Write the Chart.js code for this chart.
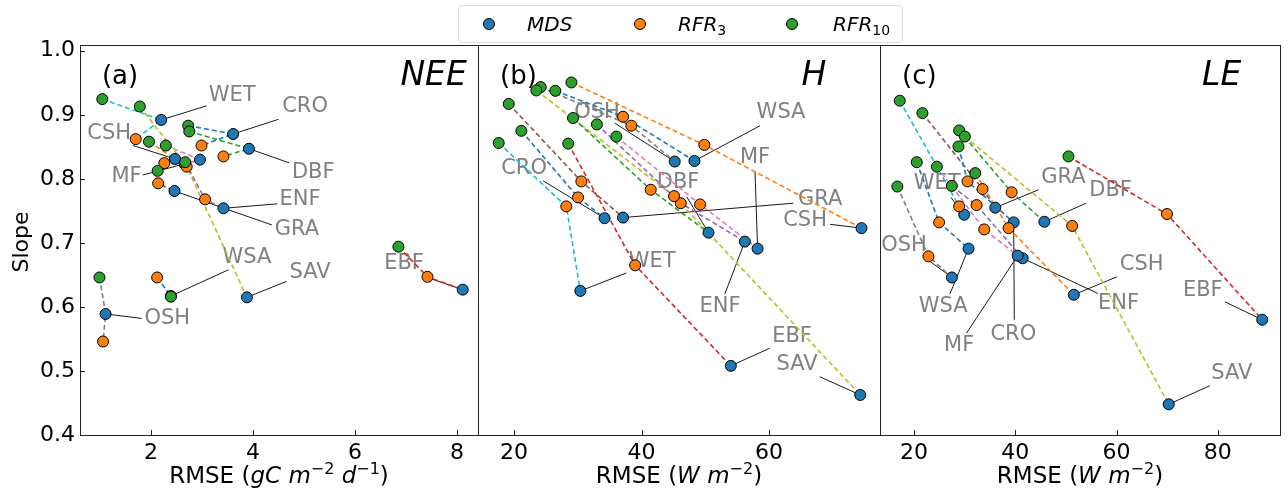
<!DOCTYPE html>
<html>
<head>
<meta charset="utf-8">
<script src="https://cdn.jsdelivr.net/npm/chart.js@4.4.1/dist/chart.umd.min.js"></script>
<style>
  html, body { margin: 0; padding: 0; background: #fff; }
  #wrap { position: relative; width: 1288px; height: 494px; overflow: hidden; }
  #wrap canvas { position: absolute; top: 0; }
  #panelNEE { left: 0; }
  #panelH { left: 478px; }
  #panelLE { left: 880px; }
  #legend {
    position: absolute; left: 458px; top: 5px; width: 445px; height: 38px;
    box-sizing: border-box; border: 1px solid #dcdcdc; border-radius: 4px;
    background: rgba(255, 255, 255, 0.85); z-index: 5;
    font: italic 20px 'DejaVu Sans', sans-serif; color: #000;
  }
  #legend .dot { position: absolute; top: 12px; width: 10px; height: 10px; border: 1px solid #000; border-radius: 50%; }
  #legend .lab { position: absolute; top: 0; height: 36px; line-height: 36px; white-space: nowrap; }
  #legend sub { font-size: 14px; font-style: normal; vertical-align: -4px; line-height: 0; }
</style>
</head>
<body>
<div id="wrap">
  <canvas id="panelNEE" width="478" height="494"></canvas>
  <canvas id="panelH" width="402" height="494"></canvas>
  <canvas id="panelLE" width="408" height="494"></canvas>
  <div id="legend">
    <span class="dot" style="left:24px;background:#1f77b4"></span><span class="lab" style="left:68px">MDS</span>
    <span class="dot" style="left:175px;background:#ff7f0e"></span><span class="lab" style="left:219px">RFR<sub>3</sub></span>
    <span class="dot" style="left:327px;background:#2ca02c"></span><span class="lab" style="left:374px">RFR<sub>10</sub></span>
  </div>
</div>
<script>
// sites (alphabetical) and their line colours (tab10, wraps for the 11th)
const SITES = ['CRO', 'CSH', 'DBF', 'EBF', 'ENF', 'GRA', 'MF', 'OSH', 'SAV', 'WET', 'WSA'];
const SITE_COLORS = ['#1f77b4', '#ff7f0e', '#2ca02c', '#d62728', '#9467bd', '#8c564b', '#e377c2', '#7f7f7f', '#bcbd22', '#17becf', '#1f77b4'];

const SLOPE_TICKS = [0.4, 0.5, 0.6, 0.7, 0.8, 0.9, 1.0];
const NEE_TICKS = [2, 4, 6, 8];
const H_TICKS = [20, 40, 60];
const LE_TICKS = [20, 40, 60, 80];

// (a) NEE
const neeMdsX = [3.61, 2.47, 3.92, 8.11, 3.42, 2.46, 2.96, 1.11, 3.88, 2.20, 2.39];
const neeMdsY = [0.870, 0.831, 0.847, 0.627, 0.754, 0.781, 0.830, 0.589, 0.615, 0.892, 0.617];
const neeRfr3X = [2.99, 2.26, 3.42, 7.42, 3.06, 2.14, 2.66, 1.06, 2.70, 1.70, 2.12];
const neeRfr3Y = [0.852, 0.8245, 0.835, 0.647, 0.768, 0.793, 0.823, 0.546, 0.819, 0.862, 0.646];
const neeRfr10X = [2.73, 1.96, 2.75, 6.85, 2.67, 2.13, 2.29, 0.99, 1.78, 1.045, 2.39];
const neeRfr10Y = [0.883, 0.858, 0.874, 0.694, 0.826, 0.8125, 0.852, 0.646, 0.913, 0.9245, 0.616];

// (b) H
const hMdsX = [34.2, 74.5, 50.5, 54.0, 56.2, 37.1, 58.2, 45.2, 74.3, 30.4, 48.3];
const hMdsY = [0.7385, 0.723, 0.716, 0.508, 0.702, 0.7395, 0.691, 0.827, 0.4625, 0.625, 0.828];
const hRfr3X = [30.04, 49.85, 41.44, 39.0, 46.15, 30.56, 49.18, 38.4, 45.1, 28.2, 37.1];
const hRfr3Y = [0.771, 0.853, 0.783, 0.665, 0.762, 0.796, 0.760, 0.883, 0.773, 0.757, 0.897];
const hRfr10X = [21.15, 29.0, 29.25, 28.5, 33.0, 19.17, 36.05, 24.18, 23.5, 17.6, 26.48];
const hRfr10Y = [0.875, 0.9505, 0.895, 0.855, 0.885, 0.917, 0.866, 0.9433, 0.938, 0.856, 0.9375];

// (c) LE
const leMdsX = [39.67, 51.55, 45.74, 88.77, 41.45, 36.04, 40.46, 27.46, 70.3, 29.9, 30.76];
const leMdsY = [0.732, 0.619, 0.733, 0.580, 0.676, 0.755, 0.680, 0.646, 0.448, 0.744, 0.691];
const leRfr3X = [30.56, 38.67, 39.27, 69.96, 32.35, 33.53, 33.86, 22.83, 51.22, 28.91, 24.95];
const leRfr3Y = [0.796, 0.723, 0.779, 0.745, 0.759, 0.784, 0.721, 0.679, 0.7265, 0.757, 0.732];
const leRfr10X = [28.77, 32.08, 28.91, 50.5, 27.46, 21.65, 24.5, 16.7, 30.03, 17.17, 20.53];
const leRfr10Y = [0.8505, 0.809, 0.8755, 0.835, 0.789, 0.9026, 0.819, 0.788, 0.866, 0.922, 0.826];

// label placement: [text x, text y, leader start x, leader start y] in data units
const neeLabelPos = [
    [5.02, 0.914, 4.50, 0.893], [1.18, 0.872, 1.65, 0.852], [5.18, 0.811, 4.71, 0.825],
    [6.96, 0.669, 7.34, 0.648], [4.92, 0.770, 4.48, 0.761], [4.86, 0.722, 4.37, 0.728],
    [1.52, 0.805, 1.84, 0.806], [2.32, 0.584, 1.82, 0.582], [5.12, 0.655, 4.66, 0.640],
    [3.59, 0.932, 3.09, 0.914], [3.88, 0.679, 3.52, 0.658]
];
const hLabelPos = [
    [21.57, 0.818, 24.55, 0.797], [65.65, 0.736, 69.57, 0.729], [45.73, 0.795, 47.09, 0.772],
    [63.61, 0.555, 60.11, 0.5355], [52.31, 0.602, 53.05, 0.620], [68.0, 0.7695, 63.81, 0.762],
    [57.80, 0.835, 57.80, 0.811], [33.02, 0.905, 35.80, 0.887], [64.39, 0.511, 67.95, 0.491],
    [41.65, 0.672, 37.62, 0.653], [61.88, 0.9055, 58.59, 0.883]
];
const leLabelPos = [
    [39.60, 0.559, 39.80, 0.580], [64.95, 0.667, 60.06, 0.647], [58.81, 0.783, 54.0, 0.762],
    [77.03, 0.627, 81.39, 0.608], [60.40, 0.607, 56.30, 0.621], [49.50, 0.804, 44.61, 0.783],
    [28.91, 0.542, 30.36, 0.559], [18.02, 0.697, 21.98, 0.678], [82.77, 0.497, 78.42, 0.477],
    [24.55, 0.794, 27.27, 0.771], [25.74, 0.602, 27.07, 0.620]
];

document.addEventListener('DOMContentLoaded', () => {

    Chart.defaults.font.family = "'DejaVu Sans', sans-serif";
    Chart.defaults.color = '#000';

    const FONT = "'DejaVu Sans', sans-serif";

    // draws text made of normal / italic / superscript pieces, centred on cx
    const drawRuns = (ctx, runs, cx, baseY, size) => {
        const fontOf = r => (r.i ? 'italic ' : '') + Math.round(r.sup ? size * 0.7 : size) + 'px ' + FONT;
        let total = 0;
        runs.forEach(r => { ctx.font = fontOf(r); total += ctx.measureText(r.t).width; });
        let x = cx - total / 2;
        ctx.textAlign = 'left';
        ctx.textBaseline = 'alphabetic';
        runs.forEach(r => {
            ctx.font = fontOf(r);
            ctx.fillText(r.t, x, baseY - (r.sup ? size * 0.42 : 0));
            x += ctx.measureText(r.t).width;
        });
    };

    const toPoints = (xs, ys) => xs.map((x, i) => ({ x: x, y: ys[i] }));

    const makeDecor = cfg => ({
        id: 'panelDecor',
        beforeDatasetsDraw(chart) {
            const { ctx } = chart;
            const sx = chart.scales.x, sy = chart.scales.y;
            ctx.save();
            ctx.strokeStyle = '#1a1a1a';
            ctx.lineWidth = 1;
            cfg.labelPos.forEach((p, i) => {
                ctx.beginPath();
                ctx.moveTo(sx.getPixelForValue(p[2]), sy.getPixelForValue(p[3]));
                ctx.lineTo(sx.getPixelForValue(cfg.mdsX[i]), sy.getPixelForValue(cfg.mdsY[i]));
                ctx.stroke();
            });
            ctx.fillStyle = '#808080';
            ctx.font = '21px ' + FONT;
            ctx.textAlign = 'center';
            ctx.textBaseline = 'middle';
            cfg.labelPos.forEach((p, i) => {
                ctx.fillText(SITES[i], sx.getPixelForValue(p[0]), sy.getPixelForValue(p[1]) + 1);
            });
            ctx.restore();
        },
        afterDraw(chart) {
            const { ctx, chartArea: a } = chart;
            const sx = chart.scales.x, sy = chart.scales.y;
            ctx.save();
            // frame and inward ticks
            ctx.strokeStyle = '#222';
            ctx.lineWidth = 1;
            ctx.strokeRect(Math.round(a.left) + 0.5, Math.round(a.top) + 0.5,
                Math.round(a.right - a.left), Math.round(a.bottom - a.top));
            ctx.beginPath();
            cfg.xTicks.forEach(v => {
                const px = Math.round(sx.getPixelForValue(v)) + 0.5;
                ctx.moveTo(px, a.bottom);
                ctx.lineTo(px, a.bottom - 5);
            });
            if (cfg.showY) {
                SLOPE_TICKS.forEach(v => {
                    const py = Math.round(sy.getPixelForValue(v)) + 0.5;
                    ctx.moveTo(a.left, py);
                    ctx.lineTo(a.left + 5, py);
                });
            }
            ctx.stroke();

            // panel tag and flux name
            const w = a.right - a.left;
            ctx.fillStyle = '#000';
            ctx.textAlign = 'left';
            ctx.textBaseline = 'alphabetic';
            ctx.font = '26px ' + FONT;
            ctx.fillText(cfg.tag, a.left + 0.055 * w, 84);
            ctx.font = 'italic 33px ' + FONT;
            ctx.fillText(cfg.flux, a.left + 0.805 * w, 85);

            // axis titles
            drawRuns(ctx, cfg.xTitle, (a.left + a.right) / 2, 483, 22.5);
            if (cfg.showY) {
                ctx.translate(22, 242);
                ctx.rotate(-Math.PI / 2);
                ctx.font = '22px ' + FONT;
                ctx.textAlign = 'center';
                ctx.textBaseline = 'middle';
                ctx.fillText('Slope', 0, 0);
            }
            ctx.restore();
        }
    });

    const createPanel = cfg => {
        const lines = SITES.map((s, i) => {
            const pts = [
                { x: cfg.rfr10X[i], y: cfg.rfr10Y[i] },
                { x: cfg.rfr3X[i], y: cfg.rfr3Y[i] },
                { x: cfg.mdsX[i], y: cfg.mdsY[i] }
            ].sort((p, q) => q.y - p.y);
            return {
                label: s, data: pts, showLine: true, pointRadius: 0,
                borderColor: SITE_COLORS[i], borderWidth: 1.6, borderDash: [5, 3], order: 10
            };
        });
        const marker = (label, xs, ys, color, order) => ({
            label: label, data: toPoints(xs, ys), backgroundColor: color,
            borderColor: '#000', borderWidth: 1, pointRadius: 5.5, order: order
        });

        return new Chart(document.getElementById(cfg.canvas), {
            type: 'scatter',
            data: {
                datasets: lines.concat([
                    marker('MDS', cfg.mdsX, cfg.mdsY, '#1f77b4', 3),
                    marker('RFR3', cfg.rfr3X, cfg.rfr3Y, '#ff7f0e', 2),
                    marker('RFR10', cfg.rfr10X, cfg.rfr10Y, '#2ca02c', 1)
                ])
            },
            options: {
                responsive: false,
                animation: false,
                devicePixelRatio: 1,
                layout: { padding: { left: 0, right: cfg.padRight, top: 45, bottom: 0 }, autoPadding: false },
                scales: {
                    x: {
                        type: 'linear', min: cfg.min, max: cfg.max,
                        afterFit: s => { s.height = 59; },
                        afterBuildTicks: s => { s.ticks = cfg.xTicks.map(v => ({ value: v })); },
                        grid: { display: false, drawTicks: false },
                        border: { display: false },
                        ticks: { font: { size: cfg.tickSize }, color: '#000', padding: 5, maxRotation: 0, autoSkip: false,
                            callback: v => String(v) }
                    },
                    y: {
                        type: 'linear', min: 0.4, max: 1.009,
                        display: cfg.showY,
                        afterFit: s => { s.width = cfg.showY ? 80 : 0; },
                        afterBuildTicks: s => { s.ticks = SLOPE_TICKS.map(v => ({ value: v })); },
                        grid: { display: false, drawTicks: false },
                        border: { display: false },
                        ticks: { font: { size: 22 }, color: '#000', padding: 5, autoSkip: false,
                            callback: v => v.toFixed(1) }
                    }
                },
                plugins: { legend: { display: false }, tooltip: { enabled: false } }
            },
            plugins: [makeDecor(cfg)]
        });
    };

    createPanel({
        canvas: 'panelNEE', padRight: 0, showY: true, min: 0.608, max: 8.41, tickSize: 22,
        xTicks: NEE_TICKS, tag: '(a)', flux: 'NEE', labelPos: neeLabelPos,
        mdsX: neeMdsX, mdsY: neeMdsY, rfr3X: neeRfr3X, rfr3Y: neeRfr3Y, rfr10X: neeRfr10X, rfr10Y: neeRfr10Y,
        xTitle: [{ t: 'RMSE (' }, { t: 'gC m', i: 1 }, { t: '\u22122', sup: 1 }, { t: ' d', i: 1 }, { t: '\u22121', sup: 1 }, { t: ')' }]
    });

    createPanel({
        canvas: 'panelH', padRight: 0, showY: false, min: 14.35, max: 77.4, tickSize: 22.05,
        xTicks: H_TICKS, tag: '(b)', flux: 'H', labelPos: hLabelPos,
        mdsX: hMdsX, mdsY: hMdsY, rfr3X: hRfr3X, rfr3Y: hRfr3Y, rfr10X: hRfr10X, rfr10Y: hRfr10Y,
        xTitle: [{ t: 'RMSE (' }, { t: 'W m', i: 1 }, { t: '\u22122', sup: 1 }, { t: ')' }]
    });

    createPanel({
        canvas: 'panelLE', padRight: 8, showY: false, min: 13.27, max: 92.28, tickSize: 22,
        xTicks: LE_TICKS, tag: '(c)', flux: 'LE', labelPos: leLabelPos,
        mdsX: leMdsX, mdsY: leMdsY, rfr3X: leRfr3X, rfr3Y: leRfr3Y, rfr10X: leRfr10X, rfr10Y: leRfr10Y,
        xTitle: [{ t: 'RMSE (' }, { t: 'W m', i: 1 }, { t: '\u22122', sup: 1 }, { t: ')' }]
    });
});
</script>
</body>
</html>
